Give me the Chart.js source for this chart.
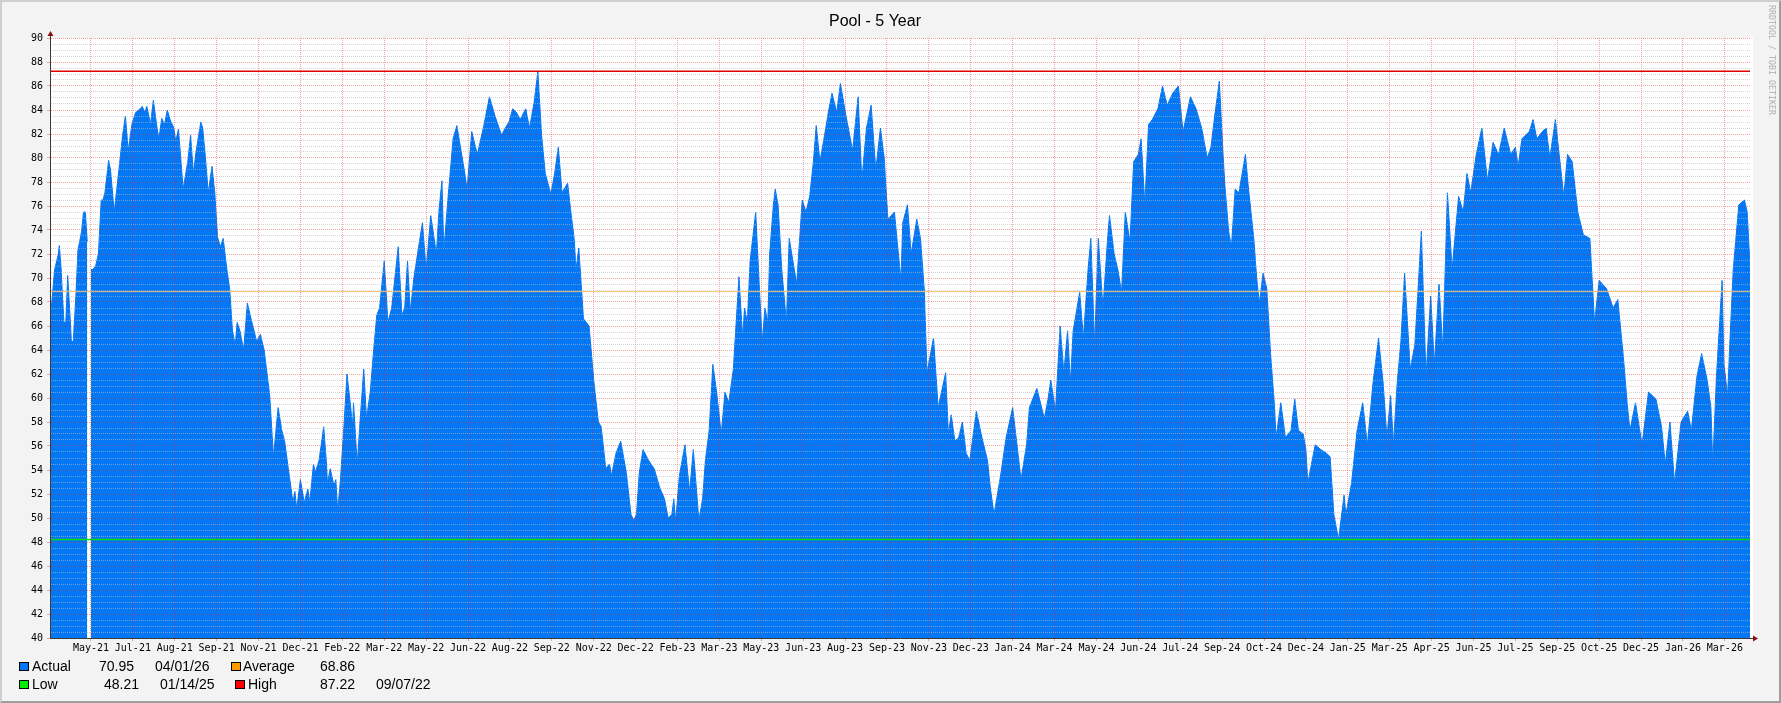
<!DOCTYPE html>
<html>
<head>
<meta charset="utf-8">
<title>Pool - 5 Year</title>
<script src="https://cdn.jsdelivr.net/npm/chart.js@4.4.1/dist/chart.umd.min.js"></script>
<style>
  html, body { margin: 0; padding: 0; background: #f3f3f3; }
  #frame { position: relative; width: 1781px; height: 703px; overflow: hidden; background: #f3f3f3; }
  #edge {
    position: absolute; left: 0; top: 0; width: 1781px; height: 703px; box-sizing: border-box;
    border-style: solid; border-width: 2px; border-color: #cfcfcf #9e9e9e #9e9e9e #cfcfcf;
  }
  canvas { position: absolute; left: 0; top: 0; }
  .lg { position: absolute; font: 14px "Liberation Sans", Arial, sans-serif; line-height: 16px; color: #000; white-space: pre; }
  .box { position: absolute; width: 10px; height: 9px; box-sizing: border-box; border: 1px solid #000; }
  #mark {
    position: absolute; left: 1777px; top: 5px; transform-origin: 0 0; transform: rotate(90deg);
    font: 8.3px "DejaVu Sans Mono", monospace; line-height: 10px; color: #b0b0b0; white-space: nowrap;
  }
</style>
</head>
<body>
<div id="frame">
  <div id="edge"></div>
  <canvas id="poolChart" width="1781" height="703"></canvas>

  <div class="box" style="left:19px; top:662px; background:#0477f5;"></div>
  <span class="lg" style="left:32px; top:658px;">Actual</span>
  <span class="lg" style="left:99px; top:658px;">70.95</span>
  <span class="lg" style="left:155px; top:658px;">04/01/26</span>
  <div class="box" style="left:231px; top:662px; background:#ff9900;"></div>
  <span class="lg" style="left:243px; top:658px;">Average</span>
  <span class="lg" style="left:320px; top:658px;">68.86</span>

  <div class="box" style="left:19px; top:680px; background:#00ee00;"></div>
  <span class="lg" style="left:32px; top:676px;">Low</span>
  <span class="lg" style="left:104px; top:676px;">48.21</span>
  <span class="lg" style="left:160px; top:676px;">01/14/25</span>
  <div class="box" style="left:235px; top:680px; background:#ff0000;"></div>
  <span class="lg" style="left:248px; top:676px;">High</span>
  <span class="lg" style="left:320px; top:676px;">87.22</span>
  <span class="lg" style="left:376px; top:676px;">09/07/22</span>

  <div id="mark">RRDTOOL / TOBI OETIKER</div>
</div>

<script>
// days since 04/01/21
const days = [
  0, 5, 9, 10, 12, 13, 15, 17, 19, 21, 23, 25, 28, 30, 34, 36, 38, 40, 42, 44,
  46, 49, 52, 55, 57, 59, 63, 65, 69, 74, 78, 81, 84, 88, 92, 97, 99, 102, 104, 108,
  111, 115, 117, 120, 123, 126, 129, 133, 135, 138, 143, 148, 151, 154, 157, 162, 164, 167, 170, 174,
  177, 180, 183, 186, 190, 193, 196, 199, 201, 204, 208, 212, 215, 222, 226, 230, 236, 240, 245, 249,
  252, 256, 261, 263, 265, 269, 273, 277, 279, 283, 285, 289, 294, 297, 298, 301, 305, 307, 309, 312,
  316, 319, 323, 325, 326, 330, 333, 337, 340, 344, 347, 351, 354, 359, 363, 367, 374, 378, 381, 384,
  387, 391, 396, 400, 404, 409, 415, 418, 421, 423, 428, 433, 437, 445, 448, 453, 459, 466, 472, 478,
  485, 489, 493, 497, 501, 505, 511, 515, 520, 524, 528, 532, 538, 542, 546, 550, 556, 559, 563, 565,
  568, 573, 579, 584, 589, 592, 597, 601, 603, 608, 613, 616, 619, 624, 627, 630, 633,
  637, 643, 649, 655, 660, 664, 668, 670, 672, 676, 682, 687, 691, 697, 701, 704, 708, 712, 716, 721,
  725, 729, 734, 740, 744, 746, 749, 752, 758, 762, 765, 768, 771, 773, 777, 779, 782, 786, 791, 794,
  798, 802, 808, 812, 816, 820, 823, 827, 832, 836, 840, 845, 849, 855, 859, 862, 865, 868, 872, 877,
  882, 887, 892, 896, 900, 907, 914, 916, 921, 925, 931, 935, 939, 942, 949, 954, 962, 965, 968, 972,
  976, 980, 984, 988, 995, 1001, 1007, 1010, 1014, 1021, 1027, 1034, 1043, 1049, 1052, 1060, 1068, 1072, 1075, 1080,
  1085, 1089, 1093, 1096, 1099, 1106, 1110, 1115, 1118, 1122, 1126, 1131, 1136, 1138, 1143, 1147, 1151, 1155, 1160, 1164,
  1169, 1172, 1176, 1180, 1184, 1190, 1195, 1200, 1206, 1212, 1217, 1225, 1231, 1237, 1243, 1247, 1251, 1256,
  1260, 1262, 1266, 1269, 1273, 1277, 1284, 1287, 1293, 1296, 1299, 1303, 1307, 1311, 1315, 1317, 1322, 1327, 1333, 1337,
  1341, 1346, 1349, 1351, 1359, 1365, 1371, 1375, 1379, 1384, 1390, 1392, 1398, 1404, 1410, 1415, 1421, 1427, 1432, 1436,
  1440, 1443, 1447, 1451, 1455, 1461, 1466, 1470, 1473, 1478, 1483, 1487, 1492, 1496, 1499, 1501, 1506, 1513, 1518, 1522,
  1526, 1532, 1538, 1544, 1550, 1556, 1562, 1569, 1574, 1577, 1581, 1589, 1593, 1597, 1603, 1607, 1611, 1617, 1621, 1626,
  1630, 1635, 1641, 1647, 1654, 1659, 1664, 1672, 1679, 1684, 1690, 1694, 1697, 1703, 1710, 1717, 1725, 1731, 1735, 1740,
  1745, 1752, 1759, 1763, 1769, 1774, 1780, 1784, 1786, 1790, 1796, 1798, 1802, 1804, 1808, 1814, 1820, 1823, 1826
];

// pool temperature (null = missing sample)
const pool = [
  66.3, 70.7, 72.0, 72.7, 70.7, 69.1, 66.3, 66.3, 70.2, 67.5, 64.7, 64.7, 68.8, 72.3, 73.9, 75.5, 75.5, 73.0, null, 70.7,
  70.7, 71.0, 72.0, 76.5, 76.5, 77.1, 79.8, 79.0, 75.5, 79.0, 81.9, 83.5, 80.6, 82.8, 83.8, 84.1, 84.3, 83.8, 84.3, 82.8,
  84.8, 82.5, 81.6, 83.3, 82.8, 84.0, 83.2, 82.5, 81.4, 82.4, 77.4, 79.7, 81.9, 78.7, 80.6, 83.0, 82.5, 80.0, 77.1, 79.3,
  77.1, 73.4, 72.6, 73.3, 70.7, 69.1, 65.6, 64.4, 66.3, 65.6, 64.0, 67.9, 66.9, 64.7, 65.3, 64.0, 60.2, 55.1, 59.2, 57.3,
  56.4, 54.1, 51.3, 52.2, 50.8, 53.2, 51.3, 52.4, 51.3, 54.5, 53.8, 54.8, 57.6, 54.5, 52.9, 54.1, 52.7, 53.2, 50.6, 53.2,
  58.0, 62.0, 59.2, 57.6, 59.6, 54.5, 58.0, 62.4, 58.3, 60.5, 63.4, 66.9, 67.5, 71.4, 66.3, 67.5, 72.6, 66.9, 67.5, 71.4,
  67.2, 70.1, 72.6, 74.6, 70.7, 75.2, 72.0, 75.8, 78.1, 72.3, 77.1, 81.6, 82.7, 79.0, 77.4, 82.2, 80.3, 82.7, 85.1, 83.5,
  81.9, 82.5, 83.0, 84.1, 83.8, 83.2, 84.1, 82.5, 84.6, 87.2, 81.9, 78.7, 77.0, 78.7, 80.9, 77.1, 77.9, 75.8, 73.3, 70.7,
  72.5, 66.6, 66.0, 61.5, 58.0, 57.6, 54.1, 54.5, 53.5, 55.4, 56.4, 55.1, 53.8, 50.3, 49.8, 50.3, 53.8,
  55.7, 54.8, 54.1, 52.5, 51.6, 50.0, 50.3, 51.6, 49.7, 53.5, 56.1, 52.2, 55.7, 49.8, 51.6, 54.8, 57.3, 62.8, 60.5, 57.0,
  60.5, 59.6, 62.4, 70.1, 65.0, 67.5, 66.3, 71.4, 75.5, 69.1, 64.7, 67.5, 66.3, 72.0, 76.1, 77.4, 76.1, 70.7, 66.3, 73.3,
  71.4, 69.5, 76.5, 75.5, 76.8, 79.7, 82.7, 79.7, 81.9, 83.8, 85.4, 83.8, 86.2, 83.5, 81.9, 80.6, 82.8, 85.1, 78.1, 82.5,
  84.4, 79.0, 82.5, 80.0, 74.9, 75.5, 69.8, 74.6, 76.1, 72.0, 74.9, 73.3, 69.1, 62.1, 65.0, 59.2, 62.1, 57.0, 58.6, 56.4,
  56.7, 58.0, 55.4, 54.8, 58.9, 56.7, 54.8, 52.5, 50.3, 53.5, 56.7, 59.2, 53.2, 56.1, 59.2, 60.8, 58.3, 59.9, 61.5, 58.9,
  66.0, 62.1, 65.6, 61.2, 65.6, 68.8, 65.0, 70.7, 73.3, 64.4, 73.3, 67.5, 73.3, 75.2, 72.0, 70.7, 68.8, 75.5, 73.0, 79.7,
  80.3, 81.6, 76.1, 82.8, 83.2, 84.1, 86.0, 84.4, 85.4, 86.0, 82.2, 85.1, 84.1, 82.5, 80.0, 80.9, 83.5, 86.4,
  80.3, 77.7, 73.9, 72.6, 77.4, 77.1, 80.3, 77.7, 73.3, 70.1, 67.9, 70.4, 69.1, 63.7, 59.6, 56.7, 59.6, 56.7, 57.3, 59.9,
  57.3, 57.0, 55.7, 52.9, 56.1, 55.7, 55.4, 55.1, 50.3, 48.21, 51.9, 50.3, 52.9, 57.3, 59.6, 56.1, 61.2, 65.0, 61.2, 56.7,
  60.2, 56.1, 61.2, 64.7, 70.4, 62.4, 64.4, 69.8, 73.9, 61.8, 68.5, 62.8, 69.5, 64.0, 71.7, 77.1, 70.7, 76.8, 75.5, 78.7,
  77.1, 80.3, 82.5, 78.1, 81.3, 80.3, 82.5, 80.3, 80.9, 79.3, 81.6, 82.2, 83.2, 81.6, 82.2, 82.5, 80.0, 83.2, 80.3, 76.8,
  80.3, 79.7, 75.5, 73.6, 73.3, 66.3, 69.8, 69.1, 67.5, 68.2, 63.4, 59.6, 57.3, 59.6, 56.1, 60.5, 59.9, 57.6, 54.5, 58.0,
  52.9, 58.0, 58.9, 57.3, 61.8, 63.7, 61.5, 59.2, 54.5, 61.8, 69.8, 62.8, 60.2, 64.0, 70.7, 76.1, 76.5, 75.5, 70.95
];

const xLabels = [
  'May-21', 'Jul-21', 'Aug-21', 'Sep-21', 'Nov-21', 'Dec-21', 'Feb-22', 'Mar-22', 'May-22', 'Jun-22',
  'Aug-22', 'Sep-22', 'Nov-22', 'Dec-22', 'Feb-23', 'Mar-23', 'May-23', 'Jun-23', 'Aug-23', 'Sep-23',
  'Nov-23', 'Dec-23', 'Jan-24', 'Mar-24', 'May-24', 'Jun-24', 'Jul-24', 'Sep-24', 'Oct-24', 'Dec-24',
  'Jan-25', 'Mar-25', 'Apr-25', 'Jun-25', 'Jul-25', 'Sep-25', 'Oct-25', 'Dec-25', 'Jan-26', 'Mar-26'
];
const firstTickDay = 44;
const tickStepDays = 45;
const lastDay = 1826;

// summary lines (HRULEs)
const highTemp = 87.22;
const lowTemp = 48.21;
const avgTemp = 68.86;

const blue = '#0477f5';
const majorGrid = 'rgba(225, 40, 40, 0.42)';
const minorGrid = 'rgba(185, 185, 185, 0.6)';
const axisColor = '#3a3a3a';
const arrowColor = '#8a1010';
const monoFont = { family: 'DejaVu Sans Mono', size: 10 };

function hrule(value, color, width) {
  return {
    data: [{ x: 0, y: value }, { x: lastDay, y: value }],
    borderColor: color,
    borderWidth: width,
    pointRadius: 0,
    fill: false,
    order: 1
  };
}

// white plot area plus the little axis arrows
const plotFrame = {
  id: 'plotFrame',
  beforeDraw(chart) {
    const { ctx, chartArea: a } = chart;
    ctx.save();
    ctx.fillStyle = '#ffffff';
    ctx.fillRect(a.left, a.top, a.right - a.left + 3, a.bottom - a.top);
    ctx.restore();
  },
  afterDraw(chart) {
    const { ctx, chartArea: a } = chart;
    ctx.save();
    ctx.strokeStyle = axisColor;
    ctx.lineWidth = 1;
    ctx.beginPath();
    ctx.moveTo(a.left + 0.5, a.top);
    ctx.lineTo(a.left + 0.5, a.top - 3);
    ctx.moveTo(a.right, a.bottom + 0.5);
    ctx.lineTo(a.right + 4, a.bottom + 0.5);
    ctx.stroke();
    ctx.fillStyle = arrowColor;
    ctx.beginPath();
    ctx.moveTo(a.left + 0.5, a.top - 7);
    ctx.lineTo(a.left - 2.5, a.top - 2);
    ctx.lineTo(a.left + 3.5, a.top - 2);
    ctx.closePath();
    ctx.fill();
    ctx.beginPath();
    ctx.moveTo(a.right + 8, a.bottom + 0.5);
    ctx.lineTo(a.right + 3, a.bottom - 2.5);
    ctx.lineTo(a.right + 3, a.bottom + 3.5);
    ctx.closePath();
    ctx.fill();
    ctx.restore();
  }
};

const ctx = document.getElementById('poolChart').getContext('2d');
const chart = new Chart(ctx, {
  type: 'line',
  data: {
    datasets: [
      hrule(highTemp, '#e00000', 1.5),
      hrule(lowTemp, '#00e000', 1.5),
      hrule(avgTemp, '#f8c070', 1),
      {
        data: days.map((d, i) => ({ x: d, y: pool[i] })),
        borderColor: blue,
        borderWidth: 1,
        backgroundColor: blue,
        fill: 'start',
        pointRadius: 0,
        tension: 0,
        spanGaps: false,
        order: 2
      }
    ]
  },
  options: {
    responsive: false,
    animation: false,
    devicePixelRatio: 1,
    events: [],
    layout: { padding: { left: 0, right: 31, top: 0, bottom: 35 } },
    plugins: {
      legend: { display: false },
      tooltip: { enabled: false },
      title: {
        display: true,
        text: 'Pool - 5 Year',
        color: '#000',
        font: { family: 'Liberation Sans', size: 16, weight: 'normal', lineHeight: 1.25 },
        padding: { top: 12, bottom: 6 }
      }
    },
    scales: {
      x: {
        type: 'linear',
        min: 0,
        max: lastDay,
        afterFit: s => { s.height = 30; },
        afterBuildTicks: s => {
          s.ticks = xLabels.map((_, k) => ({ value: firstTickDay + k * tickStepDays }));
        },
        ticks: {
          autoSkip: false,
          maxRotation: 0,
          padding: 1,
          color: '#000',
          font: monoFont,
          callback: (v, i) => xLabels[i]
        },
        grid: { color: majorGrid, tickColor: majorGrid, tickLength: 3, z: 1 },
        border: { display: true, color: axisColor, width: 1, dash: [1, 1], z: 2 }
      },
      y: {
        type: 'linear',
        min: 40,
        max: 90,
        afterFit: s => { s.width = 50; },
        ticks: {
          stepSize: 0.5,
          autoSkip: false,
          padding: 4,
          color: '#000',
          font: monoFont,
          callback: v => (v % 2 === 0 ? String(v) : '')
        },
        grid: {
          color: c => (c.tick && c.tick.value % 2 === 0 ? majorGrid : minorGrid),
          tickColor: c => (c.tick && c.tick.value % 2 === 0 ? majorGrid : 'rgba(0,0,0,0)'),
          tickLength: 3,
          z: 1
        },
        border: { display: true, color: axisColor, width: 1, dash: [1, 1], z: 2 }
      }
    }
  },
  plugins: [plotFrame]
});
</script>
</body>
</html>
